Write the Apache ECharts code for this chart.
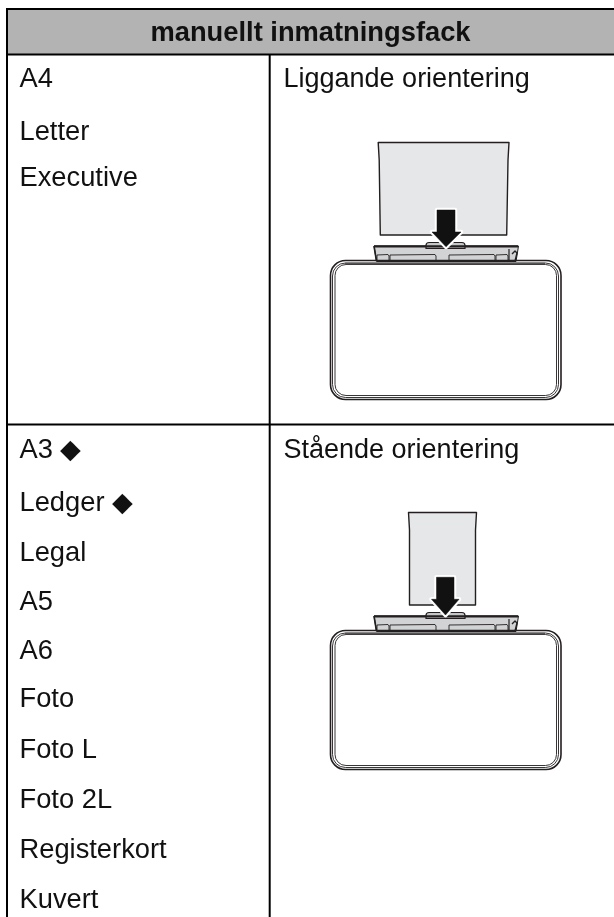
<!DOCTYPE html>
<html>
<head>
<meta charset="utf-8">
<style>html,body{margin:0;padding:0;background:#fff}#c{width:614px;height:917px}</style>
<script src="https://cdn.jsdelivr.net/npm/echarts@6/dist/echarts.min.js"></script>
</head>
<body>
<div id="c"></div>
<script>
var headerTitle = 'manuellt inmatningsfack';
var upperSizes = ['A4', 'Letter', 'Executive'];
var upperBaselines = [87, 140, 186];
var lowerSizes = ['A3 ◆', 'Ledger ◆', 'Legal', 'A5', 'A6', 'Foto', 'Foto L', 'Foto 2L', 'Registerkort', 'Kuvert'];
var lowerBaselines = [458, 511, 561, 610, 659, 707, 758, 808, 858, 908];
var orientationLabels = ['Liggande orientering', 'Stående orientering'];
var orientationBaselines = [87, 458];

var INK = '#231f20', FONT = '"Liberation Sans", Arial, sans-serif', TEXT = '#111';
var g = [];
function line(pts, lw, color, fill) {
  g.push({type: fill ? 'polygon' : 'polyline', shape: {points: pts},
    style: {fill: fill || 'none', stroke: color || INK, lineWidth: lw, lineJoin: 'round'}, silent: true});
}
function text(s, x, y, size, weight, align) {
  g.push({type: 'text', silent: true, style: {text: s, x: x, y: y - 0.78 * size, fill: TEXT, align: align || 'left', verticalAlign: 'top',
    font: (weight || 'normal') + ' ' + size + 'px ' + FONT}});
}

// table
g.push({type: 'rect', shape: {x: 7, y: 9, width: 607, height: 45}, style: {fill: '#b3b3b3'}, silent: true});
line([[7, 9], [614, 9]], 2, '#000');
line([[7, 54.5], [614, 54.5]], 2, '#000');
line([[7, 424.5], [614, 424.5]], 2, '#000');
line([[7, 8], [7, 917]], 2, '#000');
line([[269.7, 54], [269.7, 917]], 2, '#000');

text(headerTitle, 310.5, 41, 27.3, 'bold', 'center');
upperSizes.forEach(function (s, i) { text(s, 19.5, upperBaselines[i], 27.3); });
lowerSizes.forEach(function (s, i) { text(s, 19.5, lowerBaselines[i], 27.3); });
orientationLabels.forEach(function (s, i) { text(s, 283.5, orientationBaselines[i], 27); });

function illustration(dy, paper, arrow) {
  // paper
  line([[paper[0], 142.5 + dy], [paper[1], 142.5 + dy], [paper[1] - 1, 160 + dy], [paper[3], 235 + dy], [paper[2], 235 + dy], [paper[0] + 1, 160 + dy]], 1.4, INK, '#e6e7e8');
  // tray
  line([[374, 246], [376.5, 261.5], [516, 261.5], [518.5, 246]].map(function (p) { return [p[0], p[1] + dy]; }), 1, INK, '#d1d3d4');
  g.push({type: 'rect', shape: {x: 426, y: 242.5 + dy, width: 39, height: 6, r: [3, 3, 0, 0]}, style: {fill: '#c4c6c8', stroke: INK, lineWidth: 1.2}, silent: true});
  line([[374, 246.3 + dy], [518, 246.3 + dy]], 2.2, INK);
  line([[374, 246 + dy], [376.5, 261 + dy]], 1.6, INK);
  [[377, 389], [390, 436], [449, 495], [496, 508]].forEach(function (s) {
    line([[s[0], 261 + dy], [s[0], 255 + dy], [s[1] - 1, 254.5 + dy], [s[1], 256 + dy], [s[1], 261 + dy]], 0.9, INK);
  });
  line([[509, 249 + dy], [509, 261 + dy]], 1.2, INK);
  line([[512, 254 + dy], [515, 251 + dy], [517, 253 + dy], [515, 261 + dy]], 1.4, INK);
  // printer
  [[330.5, 260.5, 230.5, 139, 15, 1.6], [332.5, 263, 226, 134.5, 13, 0.9], [335, 264.5, 221.5, 131, 11, 0.9]].forEach(function (r) {
    g.push({type: 'rect', shape: {x: r[0], y: r[1] + dy, width: r[2], height: r[3], r: r[4]}, style: {fill: 'none', stroke: INK, lineWidth: r[5]}, silent: true});
  });
  line([[345, 263.5 + dy], [545, 263.5 + dy]], 1.6, '#555');
  // arrow
  var pts = [[arrow[0], arrow[3] + dy], [arrow[1], arrow[3] + dy], [arrow[1], arrow[4] + dy], [arrow[6], arrow[4] + dy], [arrow[2], arrow[5] + dy], [arrow[7], arrow[4] + dy], [arrow[0], arrow[4] + dy]];
  line(pts, 4.5, '#fff', '#fff');
  line(pts, 0.5, '#111', '#111');
}
illustration(0, [378.2, 509, 380.3, 506.7], [437, 455, 446, 210, 232, 246.8, 461, 432]);
illustration(370, [408.5, 476.5, 409.5, 475.5], [436.5, 454, 445.5, 207.3, 229.3, 245, 459, 431.5]);

var chart = echarts.init(document.getElementById('c'), null, {renderer: 'canvas'});
chart.setOption({animation: false, backgroundColor: '#fff', graphic: {elements: g}});
</script>
</body>
</html>
